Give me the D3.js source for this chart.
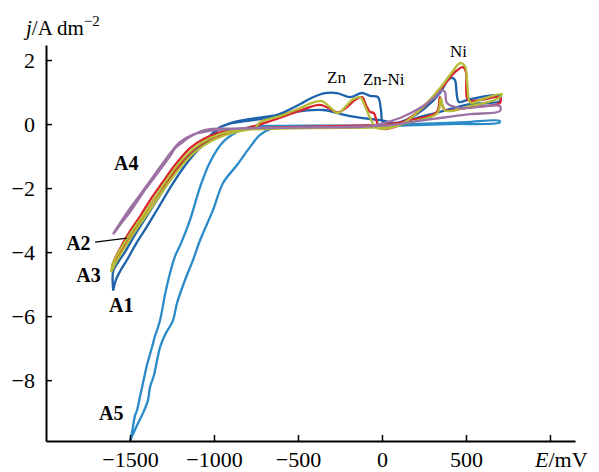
<!DOCTYPE html>
<html>
<head>
<meta charset="utf-8">
<script src="https://cdn.jsdelivr.net/npm/d3@7"></script>
<style>
  body { margin: 0; background: #fff; }
  svg { font-family: "Liberation Serif", "Times New Roman", serif; }
</style>
</head>
<body>
<svg id="chart" width="599" height="472"></svg>
<script>
// --- Data: E (mV), j (A/dm2), each series is one closed voltammogram loop ---
const A1 = [
  [-1600,-5.2],[-1600,-4.6],[-1570,-4.31],[-1530,-4.0],[-1482,-3.56],[-1423,-3.06],[-1351,-2.47],
  [-1274,-1.84],[-1202,-1.31],[-1113,-0.81],[-1040,-0.45],[-980,-0.15],[-900,0.02],[-800,0.1],
  [-700,0.18],[-607,0.32],[-488,0.62],[-411,0.84],[-339,0.97],[-268,0.97],[-190,0.84],[-119,0.97],
  [-71,0.88],[-24,0.84],[-6,0.44],[6,0.06],[77,0.03],[167,0.19],[256,0.5],[345,0.97],[393,1.38],
  [417,1.44],[434,1.38],[446,0.9],[458,0.69],[524,0.78],[702,0.88],
  [702,0.72],[524,0.62],[345,0.38],[167,0.12],[137,0.0],[-12,0.12],[-190,0.25],[-351,0.44],
  [-488,0.4],[-607,0.3],[-726,0.2],[-850,0.1],[-960,-0.1],[-1010,-0.4],[-1095,-0.81],[-1184,-1.38],
  [-1262,-2.0],[-1333,-2.63],[-1405,-3.25],[-1465,-3.75],[-1512,-4.19],[-1555,-4.56],[-1585,-4.88],[-1600,-5.2]
];
const A2 = [
  [-1607,-4.44],[-1589,-4.19],[-1548,-3.78],[-1500,-3.34],[-1440,-2.88],[-1381,-2.38],[-1309,-1.84],
  [-1232,-1.28],[-1143,-0.75],[-1054,-0.44],[-934,-0.22],[-786,-0.1],[-650,0.12],[-488,0.42],
  [-370,0.6],[-300,0.45],[-262,0.36],[-208,0.53],[-161,0.75],[-119,0.84],[-95,0.59],[-71,0.38],
  [-48,0.34],[-30,0.06],[-12,-0.12],[77,-0.09],[226,0.44],[345,1.06],[434,1.62],[482,1.78],
  [500,1.62],[512,0.75],[583,0.75],[702,0.84],
  [702,0.66],[524,0.53],[375,0.44],[345,0.84],[327,0.38],[167,0.12],[48,0.0],[-250,-0.06],
  [-600,-0.1],[-800,-0.15],[-934,-0.3],[-1054,-0.55],[-1143,-0.9],[-1232,-1.45],[-1309,-2.0],
  [-1381,-2.55],[-1440,-3.05],[-1500,-3.5],[-1548,-3.95],[-1589,-4.3],[-1607,-4.44]
];
const A3 = [
  [-1613,-4.63],[-1601,-4.34],[-1571,-4.03],[-1524,-3.63],[-1476,-3.25],[-1417,-2.81],[-1357,-2.34],
  [-1286,-1.78],[-1208,-1.22],[-1119,-0.75],[-1024,-0.44],[-905,-0.22],[-756,-0.12],[-726,0.06],
  [-607,0.25],[-488,0.5],[-399,0.69],[-357,0.72],[-310,0.53],[-262,0.34],[-220,0.53],[-179,0.75],
  [-131,0.84],[-101,0.56],[-71,0.19],[-30,-0.12],[48,-0.12],[137,0.06],[226,0.44],[345,1.12],
  [417,1.62],[464,1.9],[494,1.81],[506,1.38],[518,0.75],[530,0.66],[613,0.81],[714,0.94],
  [684,0.78],[524,0.56],[375,0.42],[350,0.8],[330,0.34],[167,0.06],[18,-0.09],[-250,-0.12],
  [-600,-0.14],[-800,-0.18],[-905,-0.3],[-1024,-0.55],[-1119,-0.9],[-1208,-1.4],[-1286,-1.95],
  [-1357,-2.5],[-1417,-2.95],[-1476,-3.4],[-1524,-3.8],[-1571,-4.2],[-1601,-4.5],[-1613,-4.63]
];
const A4 = [
  [-1601,-3.44],[-1571,-3.19],[-1536,-2.91],[-1494,-2.59],[-1446,-2.25],[-1399,-1.91],[-1351,-1.56],
  [-1304,-1.22],[-1256,-0.88],[-1202,-0.56],[-1131,-0.34],[-1036,-0.22],[-905,-0.16],[-726,-0.12],
  [-400,-0.1],[-100,-0.08],[-12,0.0],[107,0.19],[226,0.5],[315,0.84],[357,1.06],[375,1.0],
  [387,0.66],[464,0.5],[702,0.56],
  [702,0.41],[524,0.31],[345,0.19],[167,0.06],[48,-0.03],[-250,-0.09],[-600,-0.12],[-900,-0.14],
  [-1050,-0.18],[-1150,-0.42],[-1190,-0.58],[-1230,-0.75],[-1262,-1.0],[-1310,-1.35],[-1360,-1.7],
  [-1410,-2.05],[-1455,-2.4],[-1500,-2.75],[-1545,-3.05],[-1580,-3.3],[-1601,-3.44]
];
const A5 = [
  [-1500,-9.9],[-1488,-9.63],[-1470,-9.1],[-1458,-8.94],[-1440,-8.5],[-1428,-8.22],[-1399,-7.53],
  [-1369,-6.97],[-1350,-6.6],[-1339,-6.44],[-1321,-6.13],[-1292,-5.34],[-1262,-4.66],[-1232,-4.13],
  [-1196,-3.72],[-1143,-3.0],[-1083,-1.97],[-1024,-1.19],[-946,-0.56],[-863,-0.25],[-786,-0.09],
  [-607,-0.06],[-300,-0.05],[0,-0.03],[300,0.02],[500,0.06],[700,0.1],
  [700,0.05],[400,0.0],[0,-0.06],[-300,-0.08],[-488,-0.09],[-649,-0.125],[-726,-0.34],[-786,-0.72],
  [-863,-1.28],[-946,-1.84],[-1006,-2.69],[-1083,-3.63],[-1125,-4.25],[-1173,-4.88],[-1220,-5.59],
  [-1244,-6.13],[-1292,-6.59],[-1321,-6.97],[-1339,-7.38],[-1357,-7.84],[-1381,-8.22],[-1393,-8.63],
  [-1423,-9.03],[-1458,-9.41],[-1500,-9.9]
];

const xTicks = [-1500, -1000, -500, 0, 500, 1000];
const yTicks = [-8, -6, -4, -2, 0, 2];

// sample labels and peak labels, [text, E, j]
const curveLabels = [["A4", -1595, -1.44], ["A2", -1880, -3.94], ["A3", -1820, -4.94],
                     ["A1", -1625, -5.88], ["A5", -1684, -9.25]];
const peakLabels = [["Zn", -327, 1.28], ["Zn-Ni", -113, 1.22], ["Ni", 405, 2.09]];
const leader = [[-1708, -3.69], [-1518, -3.56]];

// --- Scales ---
const svg = d3.select("#chart");
const x = d3.scaleLinear().domain([-2000, 1149]).range([46, 575]);
const y = d3.scaleLinear().domain([-9.9, 2.47]).range([441, 45]);

// --- Curves ---
const line = d3.line().x(d => x(d[0])).y(d => y(d[1])).curve(d3.curveCatmullRom.alpha(0.5));

const series = [
  { data: A5, color: "#2a8bc8" },
  { data: A1, color: "#1d62ab" },
  { data: A2, color: "#d8242a" },
  { data: A3, color: "#b5bc38" },
  { data: A4, color: "#9b72a3" }
];

svg.append("g").selectAll("path")
  .data(series)
  .join("path")
  .attr("d", d => line(d.data))
  .attr("fill", "none")
  .attr("stroke", d => d.color)
  .attr("stroke-width", 2.3)
  .attr("stroke-linejoin", "round");

// --- Axes ---
const xAxis = svg.append("g")
  .attr("transform", `translate(0,${y(-9.9)})`)
  .call(d3.axisBottom(x).tickValues(xTicks).tickSize(-6).tickSizeOuter(0).tickPadding(10)
    .tickFormat(d => d === 1000 ? "" : d3.format("d")(d)));
const yAxis = svg.append("g")
  .attr("transform", `translate(${x(-2000)},0)`)
  .call(d3.axisLeft(y).tickValues(yTicks).tickSize(-6).tickSizeOuter(0).tickPadding(11)
    .tickFormat(d3.format("d")));

[xAxis, yAxis].forEach(g => {
  g.select(".domain").attr("stroke", "#000").attr("stroke-width", 2);
  g.selectAll(".tick line").attr("stroke", "#000").attr("stroke-width", 1.5);
  g.selectAll(".tick text").attr("fill", "#000")
    .style("font-family", "Liberation Serif, serif").style("font-size", "22px");
});

// axis titles
const yTitle = svg.append("text").attr("x", 26).attr("y", 35)
  .style("font-size", "21px");
yTitle.append("tspan").style("font-style", "italic").text("j");
yTitle.append("tspan").text("/A dm");
yTitle.append("tspan").attr("dy", -9).style("font-size", "15px").text("\u22122");

const xTitle = svg.append("text").attr("x", 535).attr("y", 467)
  .style("font-size", "22px");
xTitle.append("tspan").style("font-style", "italic").text("E");
xTitle.append("tspan").text("/mV");

// --- Annotations ---
svg.append("line")
  .attr("x1", x(leader[0][0])).attr("y1", y(leader[0][1]))
  .attr("x2", x(leader[1][0])).attr("y2", y(leader[1][1]))
  .attr("stroke", "#000").attr("stroke-width", 1.2);

svg.append("g").selectAll("text")
  .data(curveLabels)
  .join("text")
  .attr("x", d => x(d[1])).attr("y", d => y(d[2]))
  .style("font-size", "20px").style("font-weight", "bold")
  .text(d => d[0]);

svg.append("g").selectAll("text")
  .data(peakLabels)
  .join("text")
  .attr("x", d => x(d[1])).attr("y", d => y(d[2]))
  .style("font-size", "17px")
  .text(d => d[0]);
</script>
</body>
</html>
